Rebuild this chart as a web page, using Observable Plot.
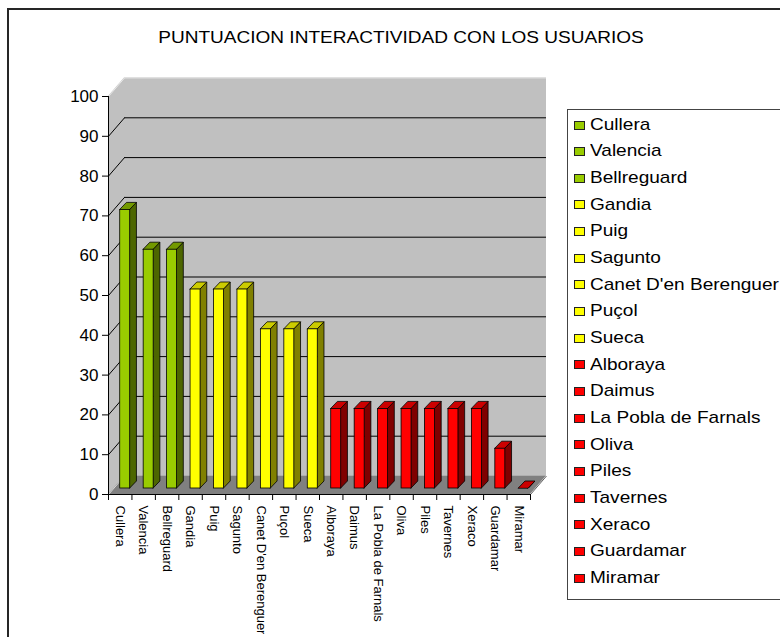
<!DOCTYPE html>
<html>
<head>
<meta charset="utf-8">
<script src="https://cdn.jsdelivr.net/npm/d3@7"></script>
<script src="https://cdn.jsdelivr.net/npm/@observablehq/plot@0.6"></script>
<style>
  body { margin: 0; background: #fff; font-family: "Liberation Sans", Arial, sans-serif; }
  #root { position: relative; width: 780px; height: 637px; overflow: hidden; background: #fff; }
  #root svg { position: absolute; left: 0; top: 0; }
  #frame { position: absolute; left: 7px; top: 8px; width: 900px; height: 800px; border: 2px solid #262626; box-sizing: border-box; }
  #title { position: absolute; top: 28px; left: 401px; font-size: 17px; line-height: 20px; white-space: nowrap; color: #000;
           transform: translateX(-50%) scaleX(1.12); }
  #legend { position: absolute; left: 567px; top: 109px; width: 400px; height: 491px; border: 1px solid #444; box-sizing: border-box; }
  .sw { position: absolute; left: 574px; width: 11px; height: 9px; box-sizing: border-box; border: 1px solid #222; }
  .lt { position: absolute; left: 590px; font-size: 17px; line-height: 20px; white-space: nowrap; color: #000;
        transform: scaleX(1.12); transform-origin: left center; }
</style>
</head>
<body>
<div id="root"></div>
<script>
// ---- data ----
const titleText = "PUNTUACION INTERACTIVIDAD CON LOS USUARIOS";
const names = ["Cullera", "Valencia", "Bellreguard", "Gandia", "Puig", "Sagunto",
  "Canet D'en Berenguer", "Puçol", "Sueca", "Alboraya", "Daimus", "La Pobla de Farnals",
  "Oliva", "Piles", "Tavernes", "Xeraco", "Guardamar", "Miramar"];
const values = [70, 60, 60, 50, 50, 50, 40, 40, 40, 20, 20, 20, 20, 20, 20, 20, 10, 0];
const groups = ["alto", "alto", "alto", "medio", "medio", "medio", "medio", "medio", "medio",
  "bajo", "bajo", "bajo", "bajo", "bajo", "bajo", "bajo", "bajo", "bajo"];
const yTicks = [0, 10, 20, 30, 40, 50, 60, 70, 80, 90, 100];

// ---- styles ----
const palette = {
  alto:  { front: "#99CC00", side: "#4D6600", top: "#739900" },
  medio: { front: "#FFFF00", side: "#808000", top: "#CCCC00" },
  bajo:  { front: "#FF0000", side: "#800000", top: "#CC0000" }
};
const W = 780, H = 637;
const mL = 108, mR = 250, mT = 96, mB = 143;
const nCat = names.length;
const yMax = yTicks[yTicks.length - 1];
const pxX = (W - mL - mR) / nCat;     // pixels per x unit
const pxY = (H - mT - mB) / yMax;     // pixels per y unit
// 3D depth of the plot box (pixels -> data units)
const DX = 16 / pxX, DY = 18.5 / pxY;
// bar geometry (pixels -> data units)
const bOffX = 5 / pxX, bOffY = 6 / pxY, bHalf = 5 / pxX, bDX = 6.7 / pxX, bDY = 7 / pxY;

const rows = names.map((name, i) => {
  const c = palette[groups[i]];
  const cx = i + 0.5 + bOffX;
  return { name, v: values[i], L: cx - bHalf, R: cx + bHalf, b: bOffY, t: values[i] + bOffY, ...c };
});
const sidePts = rows.flatMap(r => [
  { name: r.name, x: r.R, y1: r.b, y2: r.t, fill: r.side },
  { name: r.name, x: r.R + bDX, y1: r.b + bDY, y2: r.t + bDY, fill: r.side }
]);
const topPts = rows.flatMap(r => [
  { name: r.name, y: r.t, x1: r.L, x2: r.R, fill: r.top },
  { name: r.name, y: r.t + bDY, x1: r.L + bDX, x2: r.R + bDX, fill: r.top }
]);

const gridVals = yTicks.filter(t => t > 0 && t < yMax);

const plot = Plot.plot({
  width: W, height: H,
  marginLeft: mL, marginRight: mR, marginTop: mT, marginBottom: mB,
  x: { domain: [0, nCat], label: null },
  y: { domain: [0, yMax], label: null },
  color: { type: "identity" },
  style: { fontFamily: "'Liberation Sans', Arial, sans-serif", background: "none", color: "#000", overflow: "visible" },
  marks: [
    // back wall
    Plot.rect([{}], { x1: () => DX, x2: () => nCat + DX, y1: () => DY, y2: () => yMax + DY, fill: "#C0C0C0" }),
    // side wall
    Plot.areaY([{ x: 0, y1: 0, y2: yMax }, { x: DX, y1: DY, y2: yMax + DY }], { x: "x", y1: "y1", y2: "y2", fill: "#C0C0C0" }),
    // floor
    Plot.areaX([{ y: 0, x1: 0, x2: nCat }, { y: DY, x1: DX, x2: nCat + DX }], { y: "y", x1: "x1", x2: "x2", fill: "#808080" }),
    // gridlines on back wall and side wall
    Plot.ruleY(gridVals, { y: d => d + DY, x1: DX, x2: nCat + DX, stroke: "#000", strokeWidth: 1 }),
    Plot.link(gridVals, { x1: 0, y1: d => d, x2: DX, y2: d => d + DY, stroke: "#000", strokeWidth: 1 }),
    // light edges
    Plot.link([yMax], { x1: 0, y1: d => d, x2: DX, y2: d => d + DY, stroke: "#E8E8E8", strokeWidth: 1 }),
    Plot.ruleY([yMax], { y: d => d + DY, x1: DX, x2: nCat + DX, stroke: "#E0E0E0", strokeWidth: 1 }),
    Plot.link([0], { x1: 0, y1: 0, x2: DX, y2: DY, stroke: "#D8D8D8", strokeWidth: 1 }),
    Plot.link([0], { x1: nCat, y1: 0, x2: nCat + DX, y2: DY, stroke: "#606060", strokeWidth: 1 }),
    // bars: side, top, front
    Plot.areaY(sidePts, { x: "x", y1: "y1", y2: "y2", z: "name", fill: "fill", stroke: "#000", strokeWidth: 0.8 }),
    Plot.areaX(topPts, { y: "y", x1: "x1", x2: "x2", z: "name", fill: "fill", stroke: "#000", strokeWidth: 0.8 }),
    Plot.rect(rows, { x1: "L", x2: "R", y1: "b", y2: "t", fill: "front", stroke: "#000", strokeWidth: 0.8 }),
    // axis lines
    Plot.ruleX([0], { y1: 0, y2: yMax, stroke: "#000" }),
    Plot.ruleY([0], { x1: 0, x2: nCat, stroke: "#000" }),
    // axes
    Plot.axisY(yTicks, { tickSize: 6, tickPadding: 4, fontSize: 17, label: null }),
    Plot.axisX(d3.range(nCat + 1), { tickSize: 6, tickFormat: () => "", label: null }),
    Plot.axisX(names.map((_, i) => i + 0.5), {
      tickSize: 0, tickPadding: 11, tickRotate: 90, fontSize: 13, label: null,
      textAnchor: "start", lineAnchor: "middle",
      tickFormat: d => names[Math.floor(d)]
    })
  ]
});

const root = document.getElementById("root");
root.appendChild(plot);

const frame = document.createElement("div");
frame.id = "frame";
root.appendChild(frame);

const title = document.createElement("div");
title.id = "title";
title.textContent = titleText;
root.appendChild(title);

const legend = document.createElement("div");
legend.id = "legend";
root.appendChild(legend);

const legTop = 125, legStep = 26.65;
names.forEach((name, i) => {
  const cy = legTop + i * legStep;
  const sw = document.createElement("div");
  sw.className = "sw";
  sw.style.top = (cy - 4.5) + "px";
  sw.style.background = palette[groups[i]].front;
  root.appendChild(sw);
  const t = document.createElement("div");
  t.className = "lt";
  t.style.top = (cy - 10.2) + "px";
  t.textContent = name;
  root.appendChild(t);
});
</script>
</body>
</html>
